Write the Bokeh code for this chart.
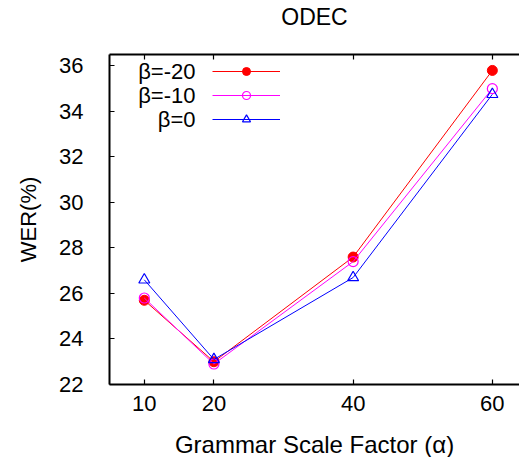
from bokeh.plotting import figure
from bokeh.models import (LinearAxis, FixedTicker, Range1d, Legend, LegendItem, Label)
from bokeh.embed import file_html
from bokeh.resources import INLINE

# ---- data ----
alpha = [10, 20, 40, 60]
wer_b_m20 = [25.7, 23.0, 27.6, 35.8]
wer_b_m10 = [25.8, 22.9, 27.4, 35.0]
wer_b_0 = [26.6, 23.1, 26.7, 34.75]
series_names = ["β=-20", "β=-10", "β=0"]
title_text = "ODEC"
x_ticks = [10, 20, 40, 60]
y_ticks = [22, 24, 26, 28, 30, 32, 34, 36]

FONT = "Liberation Sans"

p = figure(frame_width=410, frame_height=330,
           min_border_left=109, min_border_right=0,
           min_border_top=53, min_border_bottom=74,
           x_range=Range1d(5, 63.9), y_range=Range1d(22, 36.5),
           output_backend="svg", toolbar_location=None,
           x_axis_location=None, y_axis_location=None)
p.outline_line_color = None
p.xgrid.visible = False
p.ygrid.visible = False
p.background_fill_color = "white"
p.border_fill_color = "white"

def style_axis(ax):
    ax.axis_line_color = "black"
    ax.axis_line_width = 2
    ax.major_tick_in = 5
    ax.major_tick_out = 0
    ax.major_tick_line_width = 1.2
    ax.major_tick_line_color = "black"
    ax.minor_tick_line_color = None
    ax.major_label_text_font = FONT
    ax.major_label_text_font_size = "22px"
    ax.major_label_text_color = "black"
    ax.axis_label_text_font = FONT
    ax.axis_label_text_font_size = "22px"
    ax.axis_label_text_font_style = "normal"
    ax.axis_label_text_color = "black"

xb = LinearAxis(ticker=FixedTicker(ticks=x_ticks), axis_label="Grammar Scale Factor (α)")
style_axis(xb)
xb.axis_label_text_font_size = "24px"
xb.major_label_standoff = 11
xb.axis_label_standoff = 17
p.add_layout(xb, "below")

yl = LinearAxis(ticker=FixedTicker(ticks=y_ticks), axis_label="WER(%)")
style_axis(yl)
yl.major_label_standoff = 26
yl.axis_label_standoff = 15
p.add_layout(yl, "left")

# top frame edge with mirrored ticks; its axis label serves as the chart title
xt = LinearAxis(ticker=FixedTicker(ticks=x_ticks), axis_label=title_text)
style_axis(xt)
xt.major_label_text_font_size = "1px"
xt.major_label_text_color = None
xt.major_label_standoff = 0
xt.axis_label_text_font_size = "23px"
xt.axis_label_standoff = 25
p.add_layout(xt, "above")

r1l = p.line(alpha, wer_b_m20, line_color="#ff0000", line_width=1)
r1m = p.scatter(alpha, wer_b_m20, marker="circle", size=10, fill_color="#ff0000", line_color="#ff0000")
r2l = p.line(alpha, wer_b_m10, line_color="#ff00ff", line_width=1)
r2m = p.scatter(alpha, wer_b_m10, marker="circle", size=10, fill_color=None, line_color="#ff00ff", line_width=1.2)
r3l = p.line(alpha, wer_b_0, line_color="#0000ff", line_width=1)
r3m = p.scatter(alpha, wer_b_0, marker="triangle", size=11, fill_color=None, line_color="#0000ff", line_width=1.2)

legend = Legend(items=[LegendItem(label=" ", renderers=[r1l, r1m]),
                       LegendItem(label=" ", renderers=[r2l, r2m]),
                       LegendItem(label=" ", renderers=[r3l, r3m])],
                location=(103, 255), glyph_width=68, glyph_height=20, spacing=4,
                padding=0, margin=0, label_width=0, label_standoff=0,
                label_text_font_size="1px", label_text_color=None,
                border_line_color=None, background_fill_alpha=0)
p.add_layout(legend, "center")

for i, name in enumerate(series_names):
    p.add_layout(Label(x=86, y=313 - 24 * i, x_units="screen", y_units="screen",
                       text=name, text_align="right", text_baseline="middle",
                       text_font=FONT, text_font_size="22px", text_color="black"))

open("out.html", "w").write(file_html(p, INLINE))
